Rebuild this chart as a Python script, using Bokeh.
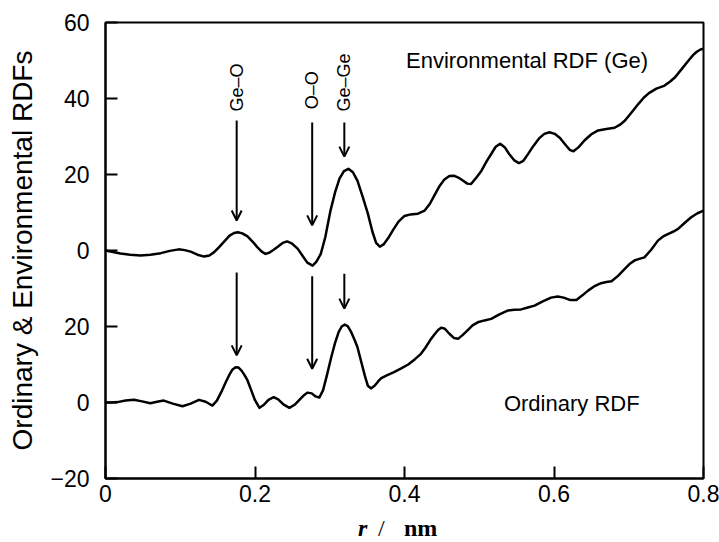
from math import pi

from bokeh.embed import file_html
from bokeh.layouts import column
from bokeh.core.properties import value
from bokeh.models import Arrow, ColumnDataSource, FixedTicker, Label, OpenHead, Range1d
from bokeh.plotting import figure
from bokeh.resources import INLINE

# r / nm and environmental RDF around Ge (drawn shifted up by ENV_OFFSET)
r_env = [0.000, 0.010, 0.020, 0.033, 0.047, 0.060, 0.074, 0.086, 0.098, 0.106,
         0.114, 0.123, 0.132, 0.139, 0.145, 0.152, 0.159, 0.166, 0.172, 0.177,
         0.183, 0.190, 0.197, 0.203, 0.209, 0.214, 0.219, 0.225, 0.230, 0.237,
         0.243, 0.249, 0.257, 0.264, 0.270, 0.277, 0.282, 0.288, 0.294, 0.301,
         0.307, 0.313, 0.319, 0.325, 0.331, 0.337, 0.344, 0.351, 0.357, 0.362,
         0.367, 0.372, 0.378, 0.385, 0.392, 0.400, 0.408, 0.418, 0.427, 0.434,
         0.440, 0.447, 0.453, 0.460, 0.466, 0.472, 0.478, 0.484, 0.489, 0.495,
         0.503, 0.510, 0.516, 0.522, 0.528, 0.534, 0.540, 0.547, 0.553, 0.559,
         0.565, 0.572, 0.580, 0.587, 0.594, 0.601, 0.608, 0.615, 0.621, 0.626,
         0.633, 0.641, 0.650, 0.659, 0.670, 0.681, 0.689, 0.695, 0.704, 0.713,
         0.720, 0.727, 0.737, 0.748, 0.755, 0.762, 0.771, 0.780, 0.786, 0.791,
         0.796, 0.800]
env_rdf = [0.0, -0.4, -0.8, -1.1, -1.3, -1.1, -0.7, -0.1, 0.3, 0.1,
           -0.3, -1.1, -1.6, -1.3, -0.5, 0.9, 2.4, 3.9, 4.6, 4.8,
           4.5, 3.7, 2.3, 0.9, -0.3, -0.9, -0.6, 0.2, 0.9, 2.0,
           2.4, 1.9, 0.5, -1.5, -3.2, -4.0, -3.0, -0.9, 3.5, 10.5,
           15.2, 18.9, 20.9, 21.5, 20.6, 18.4, 14.2, 9.7, 5.0, 2.0,
           1.0, 1.6, 3.2, 5.5, 7.6, 9.1, 9.5, 9.7, 10.5, 12.3,
           14.5, 17.0, 18.6, 19.6, 19.7, 19.2, 18.4, 17.6, 17.5, 18.9,
           21.0, 23.5, 25.4, 27.3, 28.1, 27.2, 25.4, 23.7, 23.0, 23.6,
           25.3, 27.4, 29.5, 30.7, 31.1, 30.7, 29.6, 27.9, 26.5, 26.1,
           27.2, 29.0, 30.6, 31.6, 32.0, 32.3, 33.2, 34.2, 36.4, 38.6,
           40.2, 41.4, 42.6, 43.4, 44.4, 45.6, 47.8, 50.0, 51.4, 52.3,
           52.9, 53.1]

# r / nm and ordinary RDF
r_ord = [0.000, 0.008, 0.016, 0.027, 0.038, 0.049, 0.060, 0.069, 0.078, 0.090,
         0.103, 0.114, 0.125, 0.134, 0.143, 0.149, 0.156, 0.161, 0.166, 0.170,
         0.174, 0.178, 0.182, 0.186, 0.190, 0.195, 0.200, 0.206, 0.212, 0.218,
         0.225, 0.231, 0.238, 0.246, 0.253, 0.260, 0.266, 0.270, 0.276, 0.281,
         0.286, 0.291, 0.296, 0.302, 0.307, 0.312, 0.316, 0.320, 0.324, 0.328,
         0.333, 0.337, 0.342, 0.347, 0.351, 0.355, 0.360, 0.365, 0.369, 0.377,
         0.386, 0.395, 0.405, 0.414, 0.422, 0.428, 0.434, 0.440, 0.445, 0.449,
         0.454, 0.460, 0.466, 0.472, 0.478, 0.485, 0.491, 0.498, 0.507, 0.516,
         0.527, 0.538, 0.547, 0.556, 0.565, 0.574, 0.585, 0.596, 0.605, 0.613,
         0.621, 0.630, 0.638, 0.646, 0.655, 0.663, 0.670, 0.677, 0.686, 0.695,
         0.702, 0.708, 0.714, 0.721, 0.730, 0.739, 0.746, 0.753, 0.760, 0.766,
         0.775, 0.784, 0.792, 0.800]
ord_rdf = [0.0, 0.0, 0.1, 0.5, 0.7, 0.3, -0.2, 0.2, 0.5, -0.3,
           -1.0, -0.3, 0.7, 0.2, -0.8, 0.5, 3.2, 5.4, 7.4, 8.7,
           9.3, 9.2, 8.4, 7.2, 5.8, 3.2, 0.6, -1.4, -0.6, 0.7,
           1.4, 0.8, -0.5, -1.4, -0.6, 0.8, 2.0, 2.6, 2.4, 1.6,
           1.3, 3.2, 7.0, 11.9, 15.6, 18.6, 20.0, 20.5, 20.1, 18.8,
           16.6, 14.6, 10.8, 7.0, 4.4, 3.7, 4.4, 5.6, 6.4, 7.2,
           8.0, 8.9, 10.0, 11.4, 12.8, 14.4, 16.3, 17.9, 19.1, 19.7,
           19.4, 18.1, 17.0, 16.8, 17.8, 19.1, 20.3, 21.1, 21.6, 22.0,
           23.2, 24.2, 24.4, 24.5, 25.0, 25.5, 26.6, 27.6, 27.9, 27.6,
           27.0, 27.0, 28.2, 29.5, 30.7, 31.4, 31.7, 31.9, 33.4, 35.2,
           36.6, 37.4, 37.8, 38.2, 40.2, 42.6, 43.7, 44.4, 45.0, 45.7,
           47.3, 48.8, 49.8, 50.5]

ENV_OFFSET = 40

# Axis ticks
x_ticks = [0, 0.2, 0.4, 0.6, 0.8]
x_tick_labels = ["0", "0.2", "0.4", "0.6", "0.8"]
y_ticks = [-20, 0, 20, 40, 60, 80, 100]
y_tick_labels = ["\u221220", "0", "20", "0", "20", "40", "60"]

# Pair assignments marked with arrows
pair_names = ["Ge\u2013O", "O\u2013O", "Ge\u2013Ge"]
pair_r = [0.1755, 0.2765, 0.3195]
env_arrow_start = [74.2, 73.7, 73.7]
env_arrow_tip = [47.9, 46.6, 64.7]
ord_arrow_start = [34.2, 33.2, 33.9]
ord_arrow_tip = [12.4, 8.9, 24.7]
pair_label_y = [76.6, 77.2, 76.6]

# x-axis title pieces: text, style, r position
x_title_parts = ["r", "/", "nm"]
x_title_styles = ["bold italic", "normal", "bold"]
x_title_pos = [0.3377, 0.3645, 0.3993]

FONT = "Liberation Sans"
SERIF = "Liberation Serif"
W = 719
MAIN_H = 513
TITLE_H = 542 - MAIN_H

x_range = Range1d(0, 0.8)

p = figure(width=W, height=MAIN_H, output_backend="svg", toolbar_location=None,
           x_range=x_range, y_range=Range1d(-20, 100),
           min_border_left=105, min_border_right=16,
           min_border_top=22, min_border_bottom=MAIN_H - 478)
p.grid.visible = False
p.background_fill_color = "white"
p.border_fill_color = "white"
p.outline_line_color = "black"
p.outline_line_width = 2

for ax in (p.xaxis[0], p.yaxis[0]):
    ax.axis_line_width = 2
    ax.axis_line_color = "black"
    ax.major_tick_in = 12
    ax.major_tick_out = 0
    ax.major_tick_line_width = 2
    ax.minor_tick_line_color = None
    ax.major_label_text_font = FONT
    ax.major_label_text_font_size = "23px"
    ax.major_label_text_color = "black"

p.xaxis.ticker = FixedTicker(ticks=x_ticks)
p.xaxis.major_label_overrides = {t: s for t, s in zip(x_ticks, x_tick_labels)}
p.xaxis.major_label_standoff = 6

p.yaxis.ticker = FixedTicker(ticks=y_ticks)
p.yaxis.major_label_overrides = {t: s for t, s in zip(y_ticks, y_tick_labels)}
p.yaxis.major_label_standoff = 16
p.yaxis.axis_label = "Ordinary & Environmental RDFs"
p.yaxis.axis_label_text_font = FONT
p.yaxis.axis_label_text_font_size = "28px"
p.yaxis.axis_label_text_font_style = "normal"
p.yaxis.axis_label_text_color = "black"
p.yaxis.axis_label_standoff = 9

env_src = ColumnDataSource(dict(r=r_env, g=[v + ENV_OFFSET for v in env_rdf]))
ord_src = ColumnDataSource(dict(r=r_ord, g=ord_rdf))
p.line("r", "g", source=env_src, line_color="black", line_width=2.5, line_join="round")
p.line("r", "g", source=ord_src, line_color="black", line_width=2.5, line_join="round")

# Arrows marking the atomic pairs
for name, r0, es, et, os_, ot, ly in zip(pair_names, pair_r, env_arrow_start, env_arrow_tip,
                                         ord_arrow_start, ord_arrow_tip, pair_label_y):
    for y0, y1 in ((es, et), (os_, ot)):
        p.add_layout(Arrow(x_start=r0, y_start=y0, x_end=r0, y_end=y1,
                           line_color="black", line_width=2,
                           end=OpenHead(size=10, line_width=2, line_color="black")))
    p.add_layout(Label(x=r0, y=ly, text=name, angle=pi / 2,
                       text_align="left", text_baseline="middle",
                       text_font=FONT, text_font_size="18px", text_color="black"))

# Curve captions
p.add_layout(Label(x=0.402, y=90, text="Environmental RDF (Ge)",
                   text_font=FONT, text_font_size="22px", text_color="black",
                   text_baseline="alphabetic"))
p.add_layout(Label(x=0.533, y=-0.3, text="Ordinary RDF",
                   text_font=FONT, text_font_size="22px", text_color="black",
                   text_baseline="alphabetic"))

# Strip below the chart carrying the x-axis title "r / nm", sharing the r scale
t = figure(width=W, height=TITLE_H, output_backend="svg", toolbar_location=None,
           x_range=x_range, y_range=Range1d(0, TITLE_H),
           min_border_left=105, min_border_right=16, min_border_top=0, min_border_bottom=0)
t.axis.visible = False
t.grid.visible = False
t.outline_line_color = None
t.background_fill_color = "white"
t.border_fill_color = "white"
for txt, style, xr in zip(x_title_parts, x_title_styles, x_title_pos):
    t.text(x=[xr], y=[15], text=[txt], text_font=value(SERIF), text_font_style=style,
           text_font_size="24px", text_baseline="middle", text_color="black")

layout = column(p, t, spacing=0)
open("out.html", "w").write(file_html(layout, INLINE))
